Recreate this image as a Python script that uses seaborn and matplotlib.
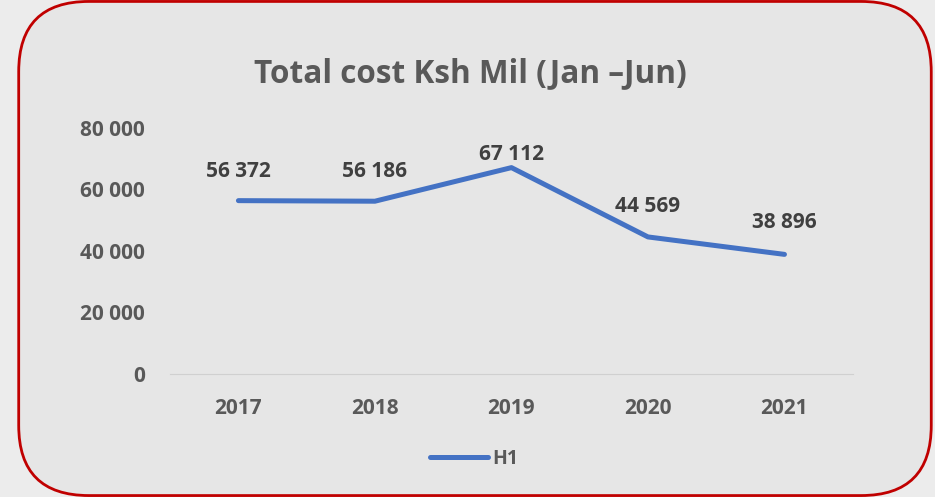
import matplotlib.pyplot as plt
import pandas as pd
import seaborn as sns
from matplotlib.patches import FancyBboxPatch

years = ["2017", "2018", "2019", "2020", "2021"]
h1_cost = [56372, 56186, 67112, 44569, 38896]
y_ticks = [0, 20000, 40000, 60000, 80000]
series_name = "H1"
title = "Total cost Ksh Mil (Jan \u2013Jun)"

# pixel offset of each data label above its point (Excel auto placement)
label_lift = [29, 30, 13, 30, 32]


def fmt(v):
    return f"{v:,}".replace(",", " ")


def main() -> None:
    sns.set_style("white")
    plt.rcParams["font.family"] = ["Open Sans", "DejaVu Sans"]

    df = pd.DataFrame({"year": years, "cost": h1_cost})

    fig = plt.figure(figsize=(9.35, 4.97), dpi=100)
    fig.patch.set_facecolor("#ececec")

    # rounded red frame behind the chart
    frame = FancyBboxPatch(
        (0.02 + 0.075, 0.004 + 0.14), 0.976 - 0.15, 0.992 - 0.28,
        boxstyle="round,pad=0.075,rounding_size=0.075",
        transform=fig.transFigure, facecolor="#e6e6e6",
        edgecolor="#c00000", linewidth=2, mutation_aspect=935 / 497,
        zorder=-10,
    )
    fig.patches.append(frame)

    ax = fig.add_axes([0.182, 0.2475, 0.73, 0.495])
    ax.set_zorder(5)
    ax.set_facecolor("none")
    sns.lineplot(data=df, x="year", y="cost", ax=ax, color="#4472c4",
                 linewidth=3.6, label=series_name, sort=False)

    ax.set_xlim(-0.5, len(years) - 0.5)
    ax.set_ylim(0, 80000)
    ax.set_yticks(y_ticks)
    ax.set_yticklabels([fmt(t) for t in y_ticks])
    ax.set_xlabel("")
    ax.set_ylabel("")
    for s in ["top", "right", "left"]:
        ax.spines[s].set_visible(False)
    ax.spines["bottom"].set_color("#d0d0d0")
    ax.tick_params(axis="both", length=0, labelsize=15, labelcolor="#595959")
    ax.tick_params(axis="y", pad=18)
    ax.tick_params(axis="x", pad=17)
    for lbl in ax.get_xticklabels() + ax.get_yticklabels():
        lbl.set_fontweight("bold")

    for i, v in enumerate(h1_cost):
        ax.annotate(fmt(v), (i, v), xytext=(0, label_lift[i]),
                    textcoords="offset pixels", ha="center", va="center",
                    fontsize=15, fontweight="bold", color="#404040")

    fig.text(0.503, 0.852, title, ha="center", va="center", fontsize=22.7,
             fontweight="bold", color="#595959", zorder=6)

    leg = ax.legend(loc="center", bbox_to_anchor=(0.445, -0.345), frameon=False,
                    handlelength=3.0, handletextpad=0.2, fontsize=14)
    for t in leg.get_texts():
        t.set_color("#595959")
        t.set_fontweight("bold")

    fig.savefig("out.png", dpi=100, facecolor=fig.get_facecolor())


if __name__ == "__main__":
    main()
